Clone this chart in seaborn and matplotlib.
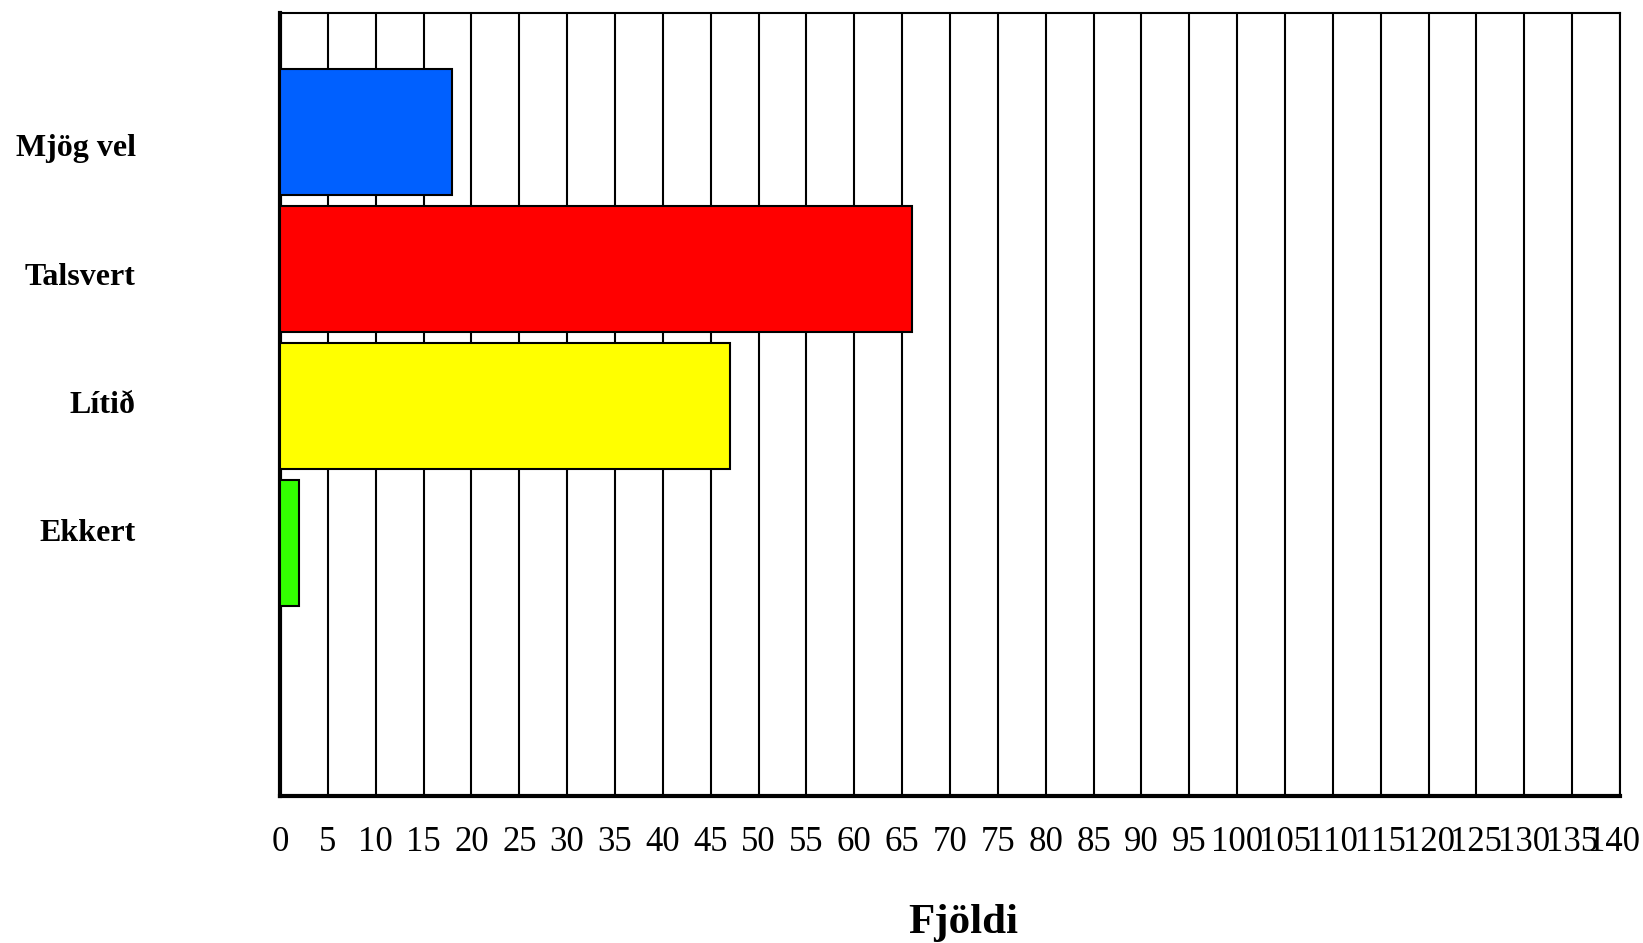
import matplotlib
matplotlib.use("Agg")
import matplotlib.pyplot as plt
import matplotlib.transforms as mtransforms
import pandas as pd
import seaborn as sns

# values
categories = ["Mjög vel", "Talsvert", "Lítið", "Ekkert"]
counts = [18, 66, 47, 2]
colors = ["#0060FF", "#FF0000", "#FFFF00", "#33FF00"]
x_ticks = list(range(0, 145, 5))


def main():
    sns.set_style("white")
    plt.rcParams["font.family"] = ["Liberation Serif", "DejaVu Serif"]
    plt.rcParams["text.color"] = "black"
    plt.rcParams["xtick.color"] = "black"
    plt.rcParams["ytick.color"] = "black"
    plt.rcParams["axes.labelcolor"] = "black"

    df = pd.DataFrame({"flokkur": categories, "fjoldi": counts})

    fig = plt.figure(figsize=(16.43, 9.43), dpi=100)
    ax = fig.add_axes([0.1704, 0.156, 0.8156, 0.8306])

    sns.barplot(data=df, x="fjoldi", y="flokkur", hue="flokkur",
                palette=colors, order=categories, hue_order=categories,
                saturation=1, width=0.92, edgecolor="black", linewidth=1.5,
                legend=False, ax=ax, zorder=3)

    ax.set_xlim(0, 140)
    ax.set_ylim(4.85, -0.87)
    ax.set_xticks(x_ticks)
    ax.xaxis.grid(True, color="black", linewidth=1.5, zorder=0)
    ax.yaxis.grid(False)
    ax.set_axisbelow(True)

    # the category labels sit a bit tighter than the bars in the original
    ax.set_yticks([0.10 + i * 0.936 for i in range(len(categories))],
                  labels=categories)

    ax.tick_params(axis="x", length=0, pad=22, labelsize=25)
    ax.tick_params(axis="y", length=0, pad=104, labelsize=23)
    for lab in ax.get_yticklabels():
        lab.set_fontweight("bold")
    last = ax.get_xticklabels()[-1]
    last.set_transform(last.get_transform() +
                       mtransforms.ScaledTranslation(-0.06, 0, fig.dpi_scale_trans))

    ax.set_ylabel("")
    ax.set_xlabel("Fjöldi", fontsize=31, fontweight="bold", labelpad=32)
    ax.xaxis.label.set_x(0.51)

    for side in ["left", "bottom"]:
        ax.spines[side].set_linewidth(3)
    for side in ["top", "right"]:
        ax.spines[side].set_linewidth(1.5)
    for sp in ax.spines.values():
        sp.set_color("black")
        sp.set_visible(True)

    fig.savefig("out.png", dpi=100)


if __name__ == "__main__":
    main()
